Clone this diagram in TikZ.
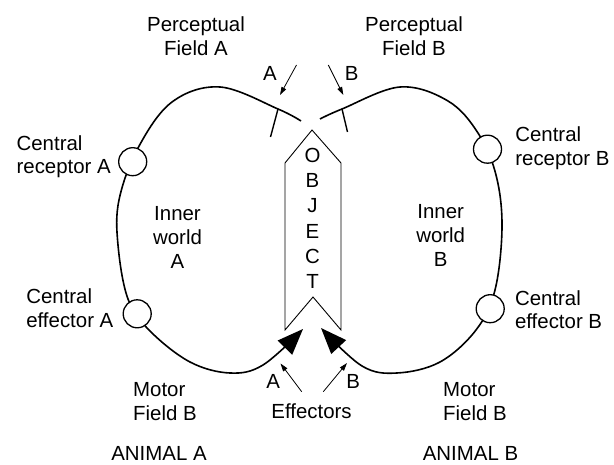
\documentclass[tikz,border=0pt]{standalone}
\usepackage{fontspec}
\setmainfont{Liberation Sans}
\usetikzlibrary{arrows.meta,positioning}

\begin{document}
\begin{tikzpicture}[x=1bp,y=-1bp,font=\fontsize{20.5}{24}\selectfont,node distance=8bp,
  organ/.style={circle,draw,line width=1.3bp,fill=white,minimum size=28bp,inner sep=0pt},
  txt/.style={inner sep=0pt,align=center},
  ltxt/.style={inner sep=0pt,align=left},
  fieldarrow/.style={line width=0.8bp,-{Triangle[length=8bp,width=5bp]}},
  body/.style={line width=1.6bp,line join=round}]
\useasboundingbox (0,0) rectangle (614,465);

% outline of animal A
\draw[body,-{Triangle[length=26bp,width=20bp]}] plot[smooth,tension=0.6] coordinates {
  (301,121) (278,109) (220,87) (172,102) (138,148) (119,200) (118,245)
  (128,299) (150,331) (190,362) (230,373) (263,365) (303,329)};
% outline of animal B
\draw[body,-{Triangle[length=26bp,width=20bp]}] plot[smooth,tension=0.6] coordinates {
  (320,119) (342,109) (400,87) (448,101) (478,133) (496,175) (502,227)
  (495,290) (476,330) (440,362) (397,373) (362,366) (321,328)};

% receptors on the field borders
\coordinate (tickA) at (278,109);
\coordinate (tickB) at (342,109);
\draw[line width=1.4bp] (tickA) -- (270.5,137);
\draw[line width=1.4bp] (tickB) -- (347.5,132);

% the object
\draw[line width=0.9bp,fill=white] (312,130) -- (341,163) -- (341,330) -- (313,297)
  -- (285,330) -- (285,163) -- cycle;
\node[txt,font=\fontsize{20.5}{25.4}\selectfont] (obj) at (312.5,218.5) {O\\B\\J\\E\\C\\T};

% central organs
\node[organ] (recA) at (132.7,161.7) {};
\node[organ] (effA) at (137.2,313.8) {};
\node[organ] (recB) at (487.5,149.2) {};
\node[organ] (effB) at (490.2,308.7) {};
\node[ltxt,left=7bp of recA,yshift=5bp] {Central\\receptor A};
\node[ltxt,left=9bp of effA,yshift=5.5bp] {Central\\effector A};
\node[ltxt,right=13bp of recB,yshift=1bp] {Central\\receptor B};
\node[ltxt,right=10bp of effB,yshift=-1bp] {Central\\effector B};

\node[txt] (inA) at (177.5,237.5) {Inner\\world\\A};
\node[txt] (inB) at (440.7,235.5) {Inner\\world\\B};

% perceptual fields
\node[txt] (pfA) at (196,36.5) {Perceptual\\Field A};
\node[txt] (pfB) at (414,36.5) {Perceptual\\Field B};
\coordinate (pA0) at (296.5,65);
\coordinate (pA1) at (280,95);
\coordinate (pB0) at (328.3,65);
\coordinate (pB1) at (343.3,95);
\draw[fieldarrow] (pA0) -- (pA1);
\draw[fieldarrow] (pB0) -- (pB1);
\node[txt] (la) at (270,73.3) {A};
\node[txt] (lb) at (351.7,73.3) {B};

% effectors
\node[txt] (eff) at (311.5,411.5) {Effectors};
\coordinate (eA0) at (301.7,391.7);
\coordinate (eA1) at (280.5,363.5);
\coordinate (eB0) at (323.3,391.7);
\coordinate (eB1) at (347,363);
\draw[fieldarrow] (eA0) -- (eA1);
\draw[fieldarrow] (eB0) -- (eB1);
\node[txt] (ea) at (273.3,381.7) {A};
\node[txt] (eb) at (353.3,381.7) {B};

% motor fields and names
\node[ltxt,anchor=west] (mfA) at (133,402) {Motor\\Field B};
\node[ltxt,anchor=west] (mfB) at (443,402) {Motor\\Field B};
\node[txt] (anA) at (159,453) {ANIMAL A};
\node[txt] (anB) at (470.5,453) {ANIMAL B};
\end{tikzpicture}
\end{document}
